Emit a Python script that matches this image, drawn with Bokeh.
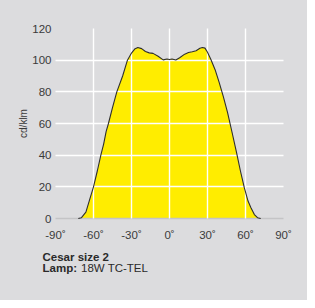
from bokeh.plotting import figure
from bokeh.models import FixedTicker, Range1d, Title
from bokeh.layouts import column
from bokeh.core.properties import value
from bokeh.embed import file_html
from bokeh.resources import INLINE

angles = [-90, -72, -69.5, -66, -63.4, -60, -57, -54.2, -52, -50, -48.2, -45, -41.6, -37, -33.2,
          -30, -27.5, -25, -22, -19, -16, -13, -9, -5, -2, 0, 2, 5, 8, 12, 15, 18, 21, 24, 26,
          28, 30, 32.6, 36, 39.2, 42.5, 45.8, 49.5, 52.9, 56, 59, 62, 64.2, 67, 69.5, 72, 90]
values = [0, 0, 0.5, 4, 11, 20, 30, 40, 47, 55, 60, 70, 80, 90, 100,
          104.5, 107, 108, 107.3, 105.5, 104.6, 104.3, 102.5, 100.2, 100.7, 100.4, 100.7, 100.1, 101.5, 103.8, 104.8, 105.3, 106, 107.5, 108,
          107.6, 105, 100.6, 94, 86, 77, 67, 54, 41.7, 30, 19.6, 11, 6.9, 2.5, 0.5, 0, 0]

x_ticks = [-90, -60, -30, 0, 30, 60, 90]
x_tick_labels = ["-90˚", "-60˚", "-30˚", "0˚", "30˚", "60˚", "90˚"]
y_ticks = [0, 20, 40, 60, 80, 100, 120]
y_label = "cd/klm"
title_text = "Cesar size 2"
lamp_key = "Lamp:"
lamp_value = "18W TC-TEL"

BG = "#dcdcde"
FONT = "Liberation Sans"
TXT = "#3a3a3a"

p = figure(width=307, height=245, output_backend="svg", toolbar_location=None,
           x_range=Range1d(-90, 90), y_range=Range1d(0, 120),
           min_border_left=55, min_border_right=24, min_border_top=28, min_border_bottom=27)
p.frame_align = False
p.background_fill_color = BG
p.border_fill_color = BG
p.outline_line_color = None

p.varea(x=angles, y1=0, y2=values, fill_color="#ffed00")
r_line = p.line(x=angles[1:-1], y=values[1:-1], line_color="#2e2e2e", line_width=1.1)
r_line.level = "overlay"

p.xaxis.ticker = FixedTicker(ticks=x_ticks)
p.xaxis.major_label_overrides = {t: l for t, l in zip(x_ticks, x_tick_labels)}
p.yaxis.ticker = FixedTicker(ticks=y_ticks)
p.xgrid.ticker = FixedTicker(ticks=x_ticks)
p.ygrid.ticker = FixedTicker(ticks=y_ticks[1:])
for g in (p.xgrid, p.ygrid):
    g.grid_line_color = "white"
    g.grid_line_width = 1.4
    g.level = "annotation"

for ax in (p.xaxis, p.yaxis):
    ax.major_tick_line_color = None
    ax.minor_tick_line_color = None
    ax.major_tick_out = 0
    ax.major_tick_in = 0
    ax.minor_tick_out = 0
    ax.axis_label_standoff = 0
    ax.major_label_text_font = FONT
    ax.major_label_text_font_size = "11.5px"
    ax.major_label_text_color = TXT
p.yaxis.axis_line_color = None
p.xaxis.axis_line_color = "#c4c4c6"
p.xaxis.axis_line_width = 1.5
p.xaxis.major_label_standoff = 10
p.yaxis.major_label_standoff = 4

p.add_layout(Title(text=y_label, align="center", text_font=FONT, text_font_size="10px",
                   text_font_style="normal", text_color=TXT, standoff=2), "left")
# empty spacer outside the axis title, pushes it towards the frame
p.add_layout(Title(text=" ", text_font=FONT, text_font_size="9px", standoff=1), "left")

# caption panel below the chart
q = figure(width=307, height=55, output_backend="svg", toolbar_location=None,
           x_range=Range1d(0, 307), y_range=Range1d(0, 55),
           min_border=0, x_axis_type=None, y_axis_type=None)
q.frame_align = False
q.background_fill_color = BG
q.border_fill_color = BG
q.outline_line_color = None
q.grid.visible = False
cap = dict(text_font=value(FONT), text_font_size="11.5px", text_color="#2a2a2a",
           text_baseline="alphabetic")
q.text(x=[42], y=[44], text=[title_text], text_font_style="bold", **cap)
q.text(x=[42], y=[32.5], text=[lamp_key], text_font_style="bold", **cap)
q.text(x=[80.5], y=[32.5], text=[lamp_value], **cap)

layout = column(p, q, spacing=0, styles={"background-color": BG})
open("out.html", "w").write(file_html(layout, INLINE))
